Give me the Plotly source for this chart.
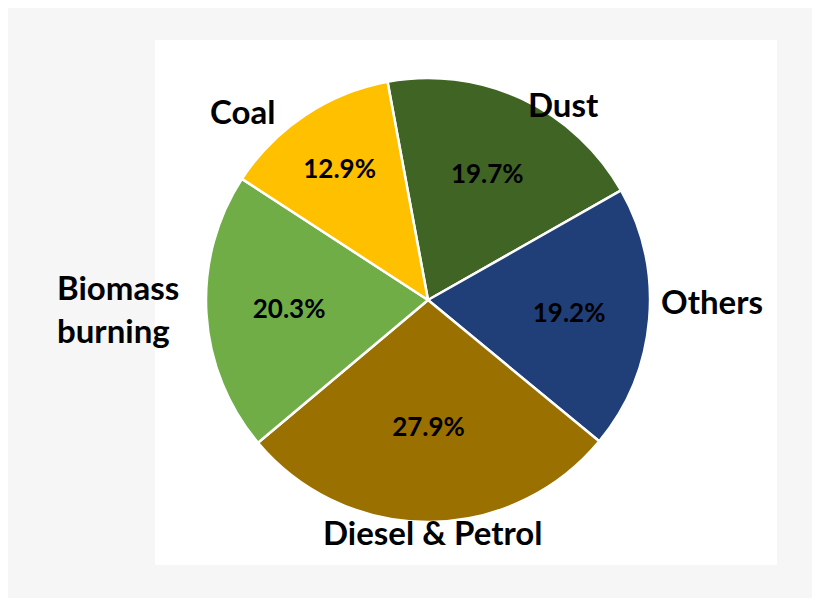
import plotly.graph_objects as go

labels = ["Dust", "Others", "Diesel & Petrol", "Biomass burning", "Coal"]
values = [19.7, 19.2, 27.9, 20.3, 12.9]
colors = ["#3F6424", "#203F78", "#9A7000", "#70AD47", "#FFC000"]

OFF = 8
W, H = 820 - 2 * OFF, 606 - 2 * OFF
def px(x): return (x - OFF) / W
def py(y): return 1 - (y - OFF) / H

fig = go.Figure(go.Pie(
    labels=labels, values=values, sort=False, direction="clockwise", rotation=-10.5,
    marker=dict(colors=colors, line=dict(color="white", width=2.5)),
    texttemplate="%{percent:.1%}", textposition="inside", insidetextorientation="horizontal",
    textfont=dict(family="Lato", size=26, color="black", weight="bold"),
    domain=dict(x=[px(206), px(650)], y=[py(522), py(78)]),
    showlegend=False, hoverinfo="label+percent",
))

ann = [("Coal", 243, 89, "center"), ("Dust", 563, 82, "center"), ("Others", 712, 301, "center"),
       ("Biomass<br>burning", 55, 308, "left"), ("Diesel & Petrol", 432, 554, "center")]
for t, x, y, al in ann:
    fig.add_annotation(text=t, x=px(x), y=py(y), xref="paper", yref="paper", showarrow=False,
                       align=al, xanchor=al if al == "left" else "center",
                       font=dict(family="Lato", size=33, color="black", weight="bold"))

fig.add_shape(type="rect", xref="paper", yref="paper", x0=px(155), x1=px(777), y0=py(565), y1=py(40),
              fillcolor="white", line=dict(width=0), layer="below")
fig.update_layout(width=W, height=H, margin=dict(l=0, r=0, t=0, b=0),
                  paper_bgcolor="#f6f6f6", plot_bgcolor="#f6f6f6")
fig.write_html("out.html")
